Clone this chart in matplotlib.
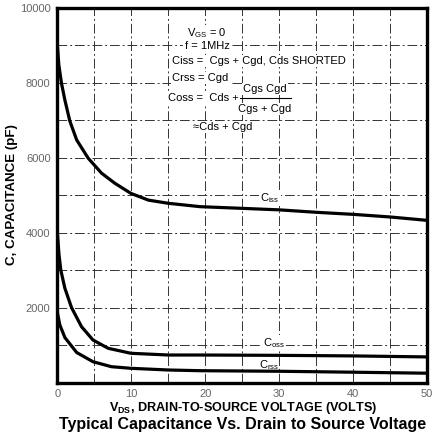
import matplotlib
matplotlib.use("Agg")
import matplotlib.pyplot as plt
import numpy as np

plt.rcParams["font.family"] = ["Liberation Sans", "DejaVu Sans"]
plt.rcParams["mathtext.fontset"] = "custom"
plt.rcParams["mathtext.rm"] = "Liberation Sans"
plt.rcParams["mathtext.bf"] = "Liberation Sans:bold"

# Data
v_ciss = [0, 0.18, 0.54, 1.0, 1.67, 2.6, 4.15, 5.96, 7.76, 9.93, 12.3, 15, 19.3, 25, 30, 35, 40, 45, 50]
c_ciss = [8970, 8480, 7990, 7540, 6980, 6475, 5990, 5590, 5320, 5050, 4870, 4785, 4695, 4650, 4610, 4545, 4490, 4420, 4330]

v_coss = [0, 0.2, 0.45, 1.0, 1.9, 3.25, 4.8, 6.86, 9.93, 15, 19.3, 30, 40, 50]
c_coss = [3950, 3420, 3000, 2515, 2000, 1490, 1135, 913, 780, 734, 734, 725, 710, 683]

v_crss = [0, 0.31, 1.0, 1.8, 2.6, 4.8, 7.3, 9.93, 15, 19.3, 30, 40, 50]
c_crss = [1850, 1540, 1200, 1000, 800, 555, 422, 379, 334, 315, 300, 275, 248]

x_ticks = [0, 10, 20, 30, 40, 50]
y_ticks = [2000, 4000, 6000, 8000, 10000]

W, H = 433, 445
fig = plt.figure(figsize=(W / 100, H / 100), dpi=100)
ax = fig.add_axes([57.5 / W, 1 - 382.5 / H, (427 - 57.5) / W, (382.5 - 8) / H])

ax.set_xlim(0, 50)
ax.set_ylim(0, 10000)

# grid every 5 V and every 1000 pF
for gx in np.arange(5, 50, 5):
    ax.axvline(gx, color="#333333", lw=0.7, dashes=(10, 3, 2, 3), zorder=1)
for gy in np.arange(1000, 10000, 1000):
    ax.axhline(gy, color="#333333", lw=0.7, dashes=(10, 3, 2, 3), zorder=1)

for v, c in [(v_ciss, c_ciss), (v_coss, c_coss), (v_crss, c_crss)]:
    ax.plot(v, c, color="black", lw=2.3, solid_capstyle="butt", solid_joinstyle="round", zorder=3)

ax.set_xticks(x_ticks)
ax.set_yticks(y_ticks)
ax.set_xticklabels([str(t) for t in x_ticks])
ax.set_yticklabels([str(t) for t in y_ticks])
ax.tick_params(length=0, labelsize=8, labelcolor="#666666")
ax.tick_params(axis="y", pad=5)
ax.tick_params(axis="x", pad=5)
for s in ax.spines.values():
    s.set_linewidth(2.4)
    s.set_color("black")

fig.text(12 / W, 1 - 195 / H, "C, CAPACITANCE (pF)", rotation=90,
         ha="center", va="center", fontsize=9.6, fontweight="bold")
fig.text(243 / W, 1 - 408 / H, r"V$_{\mathbf{DS}}$, DRAIN-TO-SOURCE VOLTAGE (VOLTS)",
         ha="center", va="center", fontsize=9.1, fontweight="bold")
fig.text(243 / W, 1 - 425 / H, "Typical Capacitance Vs. Drain to Source Voltage",
         ha="center", va="center", fontsize=11.5, fontweight="bold")

# curve labels
bb = dict(facecolor="white", edgecolor="none", pad=1)
ax.text(28.7, 4926, r"C$_{\rm iss}$", fontsize=8, ha="center", va="center", bbox=bb, zorder=4)
ax.text(29.3, 1053, r"C$_{\rm oss}$", fontsize=8, ha="center", va="center", bbox=bb, zorder=4)
ax.text(28.7, 467, r"C$_{\rm rss}$", fontsize=8, ha="center", va="center", zorder=4)

# annotation block (pixel positions converted to figure fractions)
def ft(x, y, s, **kw):
    fig.text(x / W, 1 - y / H, s, fontsize=8, va="center", zorder=5, **kw)

ft(207, 33, r"V$_{\rm GS}$ = 0", ha="center", bbox=bb)
ft(207, 46, "f = 1MHz", ha="center", bbox=bb)
ft(172, 61, "Ciss =  Cgs + Cgd, Cds SHORTED", ha="left", bbox=bb)
ft(172, 78, "Crss = Cgd", ha="left", bbox=bb)
ft(168, 98, "Coss =  Cds +", ha="left", bbox=bb)
ft(265, 89, "Cgs Cgd", ha="center", bbox=bb)
ft(265, 109, "Cgs + Cgd", ha="center", bbox=bb)
fig.add_artist(plt.Line2D([238 / W, 291 / W], [1 - 98 / H, 1 - 98 / H], color="black", lw=0.8))
ft(193, 127, "\u2248Cds + Cgd", ha="left", bbox=bb)

fig.savefig("out.png", dpi=100)
